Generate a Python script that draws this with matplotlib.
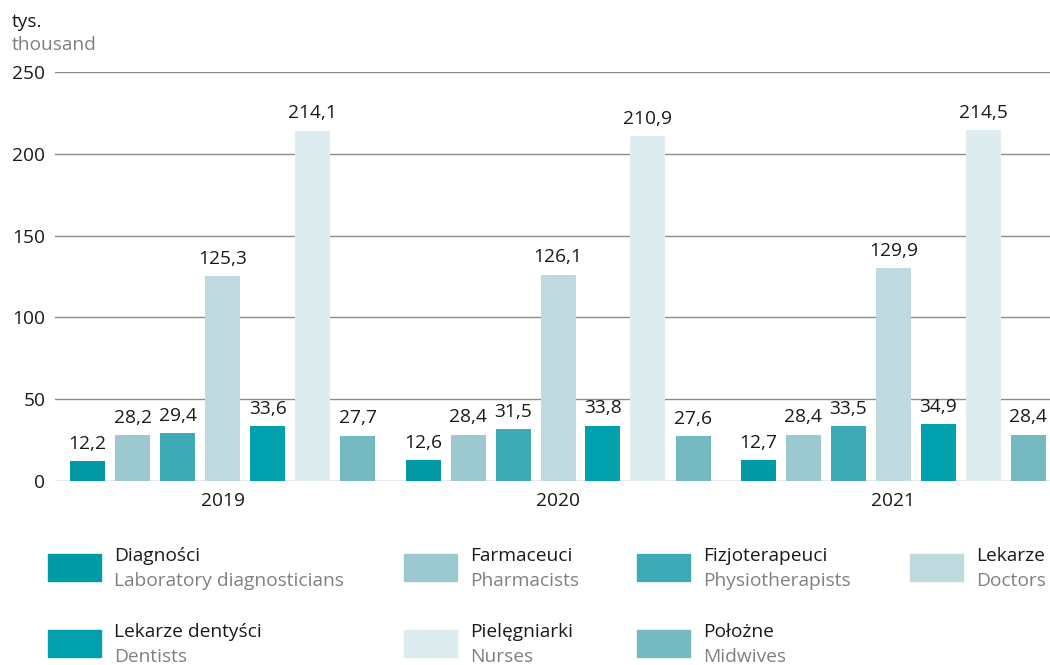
import matplotlib
matplotlib.use("Agg")
import matplotlib.pyplot as plt
from matplotlib.patches import Rectangle
import numpy as np

years = ["2019", "2020", "2021"]
series_pl = ["Diagności", "Farmaceuci", "Fizjoterapeuci", "Lekarze",
             "Lekarze dentyści", "Pielęgniarki", "Położne"]
series_en = ["Laboratory diagnosticians", "Pharmacists", "Physiotherapists", "Doctors",
             "Dentists", "Nurses", "Midwives"]
colors = ["#009ba6", "#9cc8cf", "#3daab5", "#bfdadf", "#00a1ad", "#ddecee", "#74b9c0"]

diagnosci = [12.2, 12.6, 12.7]
farmaceuci = [28.2, 28.4, 28.4]
fizjoterapeuci = [29.4, 31.5, 33.5]
lekarze = [125.3, 126.1, 129.9]
dentysci = [33.6, 33.8, 34.9]
pielegniarki = [214.1, 210.9, 214.5]
polozne = [27.7, 27.6, 28.4]
values = [diagnosci, farmaceuci, fizjoterapeuci, lekarze, dentysci, pielegniarki, polozne]

yticks = [0, 50, 100, 150, 200, 250]

plt.rcParams['font.family'] = ['Open Sans', 'DejaVu Sans']
FS = 13.8
W, H = 1050, 665
fig = plt.figure(figsize=(W/100, H/100), dpi=100)
ax_left, ax_right = 55, 1061
ax_bottom, ax_top = 481, 72
ax = fig.add_axes([ax_left/W, (H-ax_bottom)/H, (ax_right-ax_left)/W, (ax_bottom-ax_top)/H])
ax.set_xlim(-0.5, 2.5)
ax.set_ylim(0, 250)
for s in ax.spines.values():
    s.set_visible(False)
for t in yticks:
    ax.axhline(t, color="#8c8c8c", lw=1.0, zorder=0)

group_px = (ax_right - ax_left) / 3
pitch = 45 / group_px
width = 35 / group_px
x = np.arange(len(years))
for j, (vals, c) in enumerate(zip(values, colors)):
    xs = x + (j - 3) * pitch
    ax.bar(xs, vals, width=width, color=c, zorder=2)
    for xi, v in zip(xs, vals):
        ax.annotate(f"{v:.1f}".replace(".", ","), (xi, v), xytext=(0, 6),
                    textcoords="offset points", ha="center", va="bottom",
                    fontsize=FS, color="#1a1a1a")

ax.set_yticks(yticks)
ax.set_yticklabels([str(t) for t in yticks], fontsize=FS, color="#1a1a1a")
ax.set_xticks(x)
ax.set_xticklabels(years, fontsize=FS, color="#1a1a1a")
ax.tick_params(axis="y", length=0, pad=7)
ax.tick_params(axis="x", length=0, pad=8)

fig.text(12/W, 1-22/H, "tys.", fontsize=FS, color="#1a1a1a", va="center", ha="left")
fig.text(12/W, 1-45/H, "thousand", fontsize=FS, color="#808080", va="center", ha="left")

# legend
col_x = [48, 404, 637, 910]
row_y = [554, 630]
order = [(0, 0), (0, 1), (0, 2), (0, 3), (1, 0), (1, 1), (1, 2)]
for k, (r, cidx) in enumerate(order):
    px = col_x[cidx]
    py = row_y[r]
    fig.patches.append(Rectangle((px/W, 1-(py+27)/H), 53/W, 27/H,
                                 transform=fig.transFigure, color=colors[k]))
    fig.text((px+66)/W, 1-(py+2)/H, series_pl[k], fontsize=FS, color="#1a1a1a",
             va="center", ha="left")
    fig.text((px+66)/W, 1-(py+27)/H, series_en[k], fontsize=FS, color="#808080",
             va="center", ha="left")

fig.savefig("out.png", dpi=100)
